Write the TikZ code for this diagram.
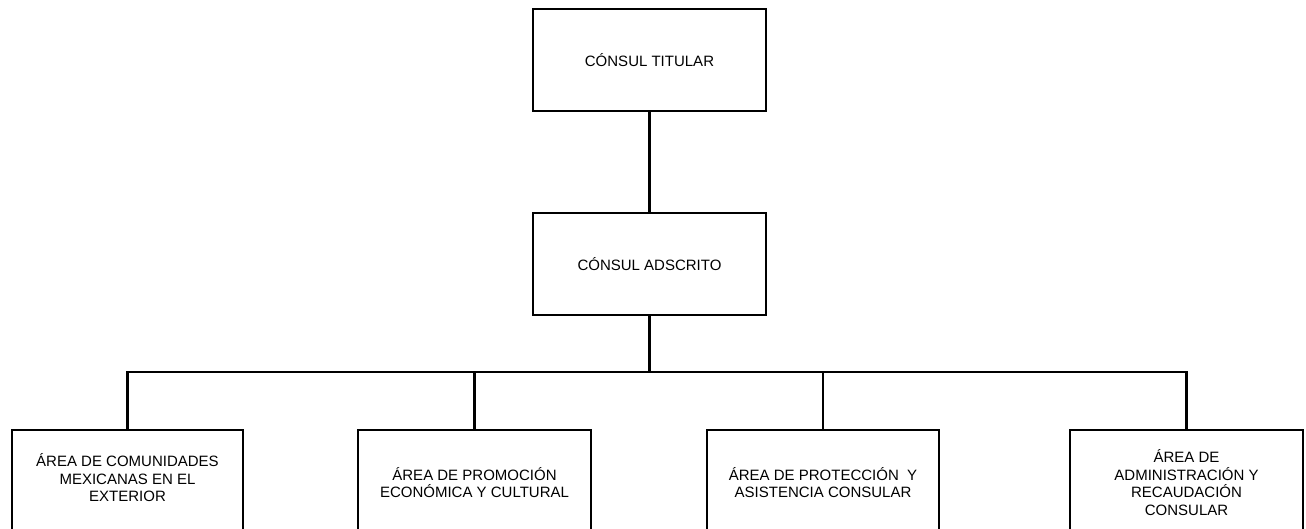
\documentclass[tikz,border=0pt]{standalone}
\usepackage{fontspec}
\setmainfont{Liberation Sans}
\begin{document}
\begin{tikzpicture}[x=1pt,y=-1pt,
  box/.style={draw,line width=2pt,rectangle,align=center,inner sep=0pt,
    font=\fontsize{15}{17.5}\selectfont},
  link/.style={line width=2.2pt}]
\useasboundingbox (0,0) rectangle (1306,529);
\clip (0,0) rectangle (1306,529);
\node[box,minimum width=233pt,minimum height=102pt] (t) at (649.5,60) {CÓNSUL TITULAR};
\node[box,minimum width=233pt,minimum height=102pt] (m) at (649.5,264) {CÓNSUL ADSCRITO};
\node[box,minimum width=231pt,minimum height=105pt] (b1) at (127.5,482.5) {ÁREA DE COMUNIDADES\\MEXICANAS EN EL\\EXTERIOR\\[-8pt]};
\node[box,minimum width=233pt,minimum height=105pt] (b2) at (474.5,482.5) {ÁREA DE PROMOCIÓN\\ECONÓMICA Y CULTURAL};
\node[box,minimum width=232pt,minimum height=105pt] (b3) at (823,482.5) {ÁREA DE PROTECCIÓN \ Y\\ASISTENCIA CONSULAR};
\node[box,minimum width=233pt,minimum height=105pt] (b4) at (1186.5,482.5) {ÁREA DE\\ADMINISTRACIÓN Y\\RECAUDACIÓN\\CONSULAR};
\coordinate (bar) at (649.5,372);
\draw[link] (t.south) -- (m.north);
\draw[link] (m.south) -- (bar);
\draw[link] (b1.north) |- (bar) -| (b4.north);
\draw[link] (b2.north) -- (b2.north |- bar);
\draw[link] (b3.north) -- (b3.north |- bar);
\end{tikzpicture}
\end{document}
